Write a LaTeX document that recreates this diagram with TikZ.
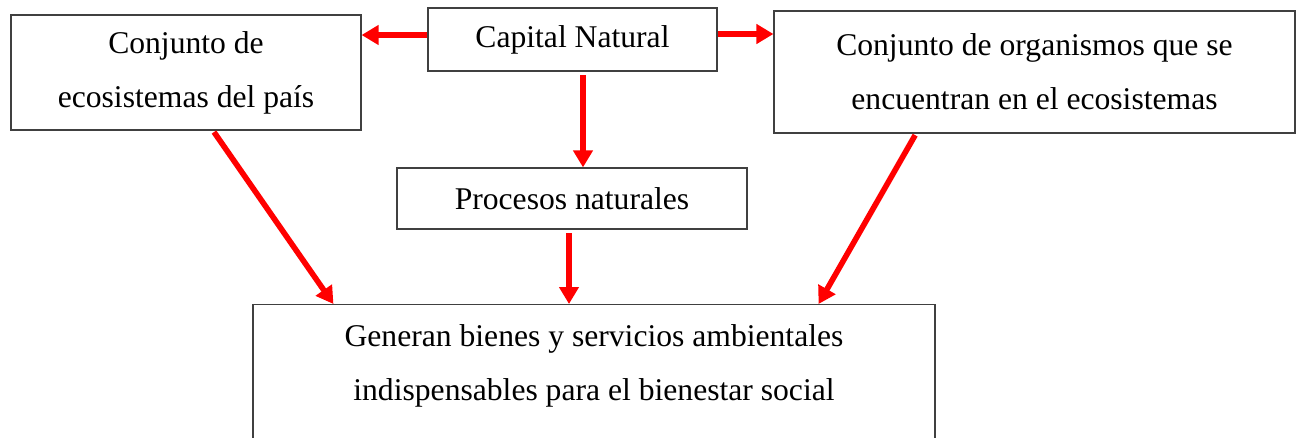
\documentclass[tikz,border=0pt]{standalone}
\usepackage{fontspec}
\setmainfont{Liberation Serif}
\usetikzlibrary{arrows.meta}
\tikzset{
  caja/.style={draw=black!75, line width=0.7pt, align=center, inner sep=0pt,
    font=\fontsize{18}{30.7}\selectfont},
  texto/.style={align=center, inner sep=0pt, font=\fontsize{18}{30.7}\selectfont},
  flecha/.style={draw=red, line width=3.2pt, -{Triangle[length=0.34cm,width=0.38cm]}},
}
\begin{document}
\begin{tikzpicture}[x=0.02cm, y=-0.02cm]
        \useasboundingbox (0,0) rectangle (1296,437);
        %Cajas
        \node [caja, minimum width=7cm, minimum height=2.3cm] (eco) at (186,72.5) {Conjunto de\\ecosistemas del país};
        \node [caja, minimum width=5.78cm, minimum height=1.26cm] (cap) at (572.5,39.5) {Capital Natural};
        \node [caja, minimum width=10.42cm, minimum height=2.44cm] (org) at (1034.5,72) {Conjunto de organismos que se\\encuentran en el ecosistemas};
        \node [caja, minimum width=7cm, minimum height=1.22cm] (proc) at (572,198.5) {Procesos naturales};
        \node [caja, anchor=north, minimum width=13.64cm, minimum height=3.6cm] (bien) at (594,304) {};
        \node [texto] (bientxt) at (594,366) {Generan bienes y servicios ambientales\\indispensables para el bienestar social};
        %Flechas
        \draw [flecha] ([yshift=0.09cm]cap.west) -- ([yshift=0.09cm]cap.west -| eco.east);
        \draw [flecha] ([yshift=0.11cm]cap.east) -- ([yshift=0.11cm]cap.east -| org.west);
        \draw [flecha, shorten <=2pt] ([xshift=0.21cm]cap.south) -- ([xshift=0.21cm]cap.south |- proc.north);
        \draw [flecha, shorten <=1pt] ([xshift=0.54cm]eco.south) -- ([xshift=1.62cm]bien.north west);
        \draw [flecha, shorten <=2pt] ([xshift=-0.06cm]proc.south) -- ([xshift=-0.06cm]proc.south |- bien.north);
        \draw [flecha, shorten <=1pt] ([xshift=-2.37cm]org.south) -- ([xshift=-2.34cm]bien.north east);
\end{tikzpicture}
\end{document}
